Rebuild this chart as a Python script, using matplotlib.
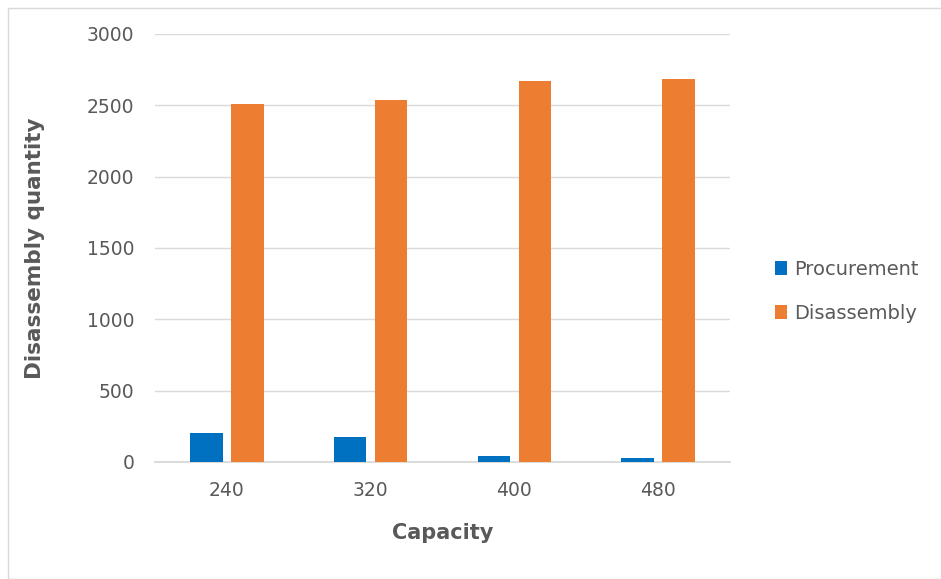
import matplotlib.pyplot as plt
import numpy as np
from matplotlib.patches import Rectangle

capacity = ['240', '320', '400', '480']
procurement = [200, 173, 40, 26]
disassembly = [2509, 2535, 2670, 2685]

grey = '#595959'
fig = plt.figure(figsize=(9.41, 5.79), dpi=100)
ax = fig.add_axes([0.1647, 0.2021, 0.6111, 0.7392])

x = np.arange(len(capacity))
w = 0.226
ax.bar(x - 0.1425, procurement, w, color='#0070C0', label='Procurement', zorder=3)
ax.bar(x + 0.1425, disassembly, w, color='#ED7D31', label='Disassembly', zorder=3)

ax.set_xlim(-0.5, len(capacity) - 0.5)
ax.set_ylim(0, 3000)
ax.set_yticks(range(0, 3001, 500))
ax.set_xticks(x)
ax.set_xticklabels(capacity)
ax.grid(axis='y', color='#d9d9d9', lw=1, zorder=0)
for s in ['top', 'right', 'left']:
    ax.spines[s].set_visible(False)
ax.spines['bottom'].set_color('#d9d9d9')
ax.spines['bottom'].set_linewidth(1.3)
ax.tick_params(length=0, labelsize=13.5, labelcolor=grey)
ax.tick_params(axis='y', pad=15)
ax.tick_params(axis='x', pad=14)

# axis titles placed in figure coords
fig.text(35 / 941, 1 - 248 / 579, 'Disassembly quantity', rotation=90, fontsize=15.5,
         fontweight='bold', color=grey, ha='center', va='center')
fig.text(443 / 941, 1 - 533 / 579, 'Capacity', fontsize=15, fontweight='bold',
         color=grey, ha='center', va='center')

leg = ax.legend(loc='center left', bbox_to_anchor=(775 / 941, 1 - 291.5 / 579),
                bbox_transform=fig.transFigure, frameon=False, fontsize=14,
                handlelength=0.6, handleheight=0.75, handletextpad=0.4,
                labelspacing=1.3, borderaxespad=0, borderpad=0)
for t in leg.get_texts():
    t.set_color(grey)

fig.patches.append(Rectangle((8 / 941, 0), 1.0, 1 - 8 / 579, transform=fig.transFigure,
                             fill=False, edgecolor='#d9d9d9', lw=1))

fig.savefig('out.png', dpi=100)
